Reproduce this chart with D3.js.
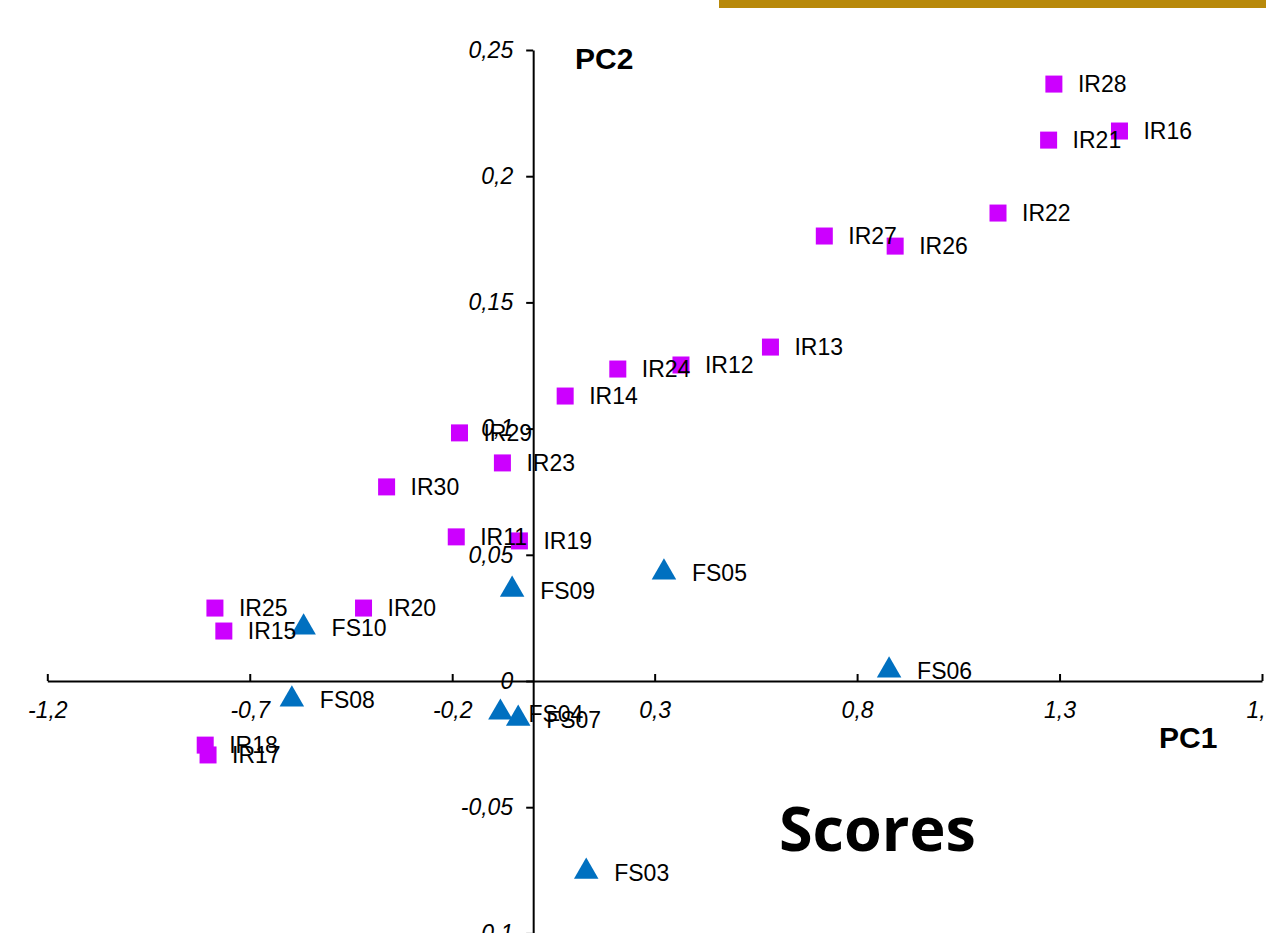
<!DOCTYPE html>
<html>
<head>
<meta charset="utf-8">
<script src="https://cdn.jsdelivr.net/npm/d3@7"></script>
<style>
  body { margin: 0; background: #fff; }
  svg { display: block; }
</style>
</head>
<body>
<div id="chart"></div>
<script>
// IR samples (squares)
const irNames = ['IR28', 'IR16', 'IR21', 'IR22', 'IR27', 'IR26', 'IR13', 'IR12', 'IR24', 'IR14',
  'IR29', 'IR23', 'IR30', 'IR11', 'IR19', 'IR25', 'IR20', 'IR15', 'IR18', 'IR17'];
const irPC1 = [1.286, 1.448, 1.273, 1.148, 0.719, 0.894, 0.586, 0.365, 0.209, 0.079,
  -0.182, -0.076, -0.362, -0.190, -0.034, -0.786, -0.419, -0.764, -0.810, -0.803];
const irPC2 = [0.2365, 0.2179, 0.2143, 0.1854, 0.1763, 0.1723, 0.1323, 0.1252, 0.1236, 0.1129,
  0.0983, 0.0864, 0.0769, 0.0571, 0.0555, 0.0289, 0.0289, 0.0198, -0.0254, -0.0293];

// FS samples (triangles)
const fsNames = ['FS09', 'FS05', 'FS10', 'FS06', 'FS08', 'FS04', 'FS07', 'FS03'];
const fsPC1 = [-0.052, 0.323, -0.567, 0.879, -0.596, -0.081, -0.037, 0.131];
const fsPC2 = [0.0362, 0.0430, 0.0212, 0.0042, -0.0073, -0.0125, -0.0149, -0.0755];

const xTicks = [-1.2, -0.7, -0.2, 0.3, 0.8, 1.3, 1.8];
const yTicks = [0.25, 0.2, 0.15, 0.1, 0.05, 0, -0.05, -0.1];

const width = 1266, height = 933;
const fmt = d => String(d).replace('.', ',');

const svg = d3.select('#chart').append('svg')
  .attr('width', width)
  .attr('height', height);

// gold bar at the top
svg.append('rect')
  .attr('x', 719).attr('y', 0)
  .attr('width', width - 719).attr('height', 8)
  .attr('fill', '#b8890a');

const x = d3.scaleLinear().domain([-1.2, 1.8]).range([47.3, 1262]);
const y = d3.scaleLinear().domain([-0.1, 0.25]).range([933.4, 50]);

// x axis, ticks pointing up
const xAxis = svg.append('g')
  .attr('transform', `translate(0,${y(0)})`)
  .call(d3.axisBottom(x).tickValues(xTicks).tickSize(-7).tickSizeOuter(0).tickFormat(fmt));
xAxis.select('.domain').attr('stroke', '#000').attr('stroke-width', 2);
xAxis.selectAll('.tick line').attr('stroke', '#000').attr('stroke-width', 2);
xAxis.selectAll('.tick text')
  .attr('y', 37).attr('dy', 0)
  .style('font-family', 'Liberation Sans, Arial, sans-serif')
  .style('font-style', 'italic')
  .style('font-size', '23px')
  .attr('fill', '#000');

// y axis, ticks pointing left
const yAxis = svg.append('g')
  .attr('transform', `translate(${x(0)},0)`)
  .call(d3.axisLeft(y).tickValues(yTicks).tickSize(7).tickSizeOuter(0).tickFormat(fmt));
yAxis.select('.domain').attr('stroke', '#000').attr('stroke-width', 2);
yAxis.selectAll('.tick line').attr('stroke', '#000').attr('stroke-width', 2);
yAxis.selectAll('.tick text')
  .attr('x', -20)
  .style('font-family', 'Liberation Sans, Arial, sans-serif')
  .style('font-style', 'italic')
  .style('font-size', '23px')
  .attr('fill', '#000');

// axis titles
svg.append('text')
  .attr('x', 575).attr('y', 69)
  .style('font-family', 'Liberation Sans, Arial, sans-serif')
  .style('font-weight', 'bold').style('font-size', '30px')
  .text('PC2');
svg.append('text')
  .attr('x', 1159).attr('y', 748)
  .style('font-family', 'Liberation Sans, Arial, sans-serif')
  .style('font-weight', 'bold').style('font-size', '30px')
  .text('PC1');

// IR squares
const irData = irNames.map((n, i) => ({ name: n, pc1: irPC1[i], pc2: irPC2[i] }));
const fsData = fsNames.map((n, i) => ({ name: n, pc1: fsPC1[i], pc2: fsPC2[i] }));

const sq = 17;
svg.append('g').selectAll('rect')
  .data(irData)
  .join('rect')
  .attr('x', d => x(d.pc1) - sq / 2)
  .attr('y', d => y(d.pc2) - sq / 2)
  .attr('width', sq).attr('height', sq)
  .attr('fill', '#cc00ff');

const tri = d3.symbol().type(d3.symbolTriangle).size(260);
svg.append('g').selectAll('path')
  .data(fsData)
  .join('path')
  .attr('transform', d => `translate(${x(d.pc1)},${y(d.pc2)})`)
  .attr('d', tri)
  .attr('fill', '#0070c0');

// point labels
const labels = svg.append('g')
  .style('font-family', 'Liberation Sans, Arial, sans-serif')
  .style('font-size', '23px');
labels.selectAll('text.ir')
  .data(irData)
  .join('text')
  .attr('class', 'ir')
  .attr('x', d => x(d.pc1) + 24)
  .attr('y', d => y(d.pc2) + 8)
  .text(d => d.name);
labels.selectAll('text.fs')
  .data(fsData)
  .join('text')
  .attr('class', 'fs')
  .attr('x', d => x(d.pc1) + 28)
  .attr('y', d => y(d.pc2) + 9)
  .text(d => d.name);

// big title
svg.append('text')
  .attr('x', 779).attr('y', 851)
  .style('font-family', 'Open Sans, sans-serif')
  .style('font-weight', 'bold').style('font-size', '61px')
  .text('Scores');
</script>
</body>
</html>
